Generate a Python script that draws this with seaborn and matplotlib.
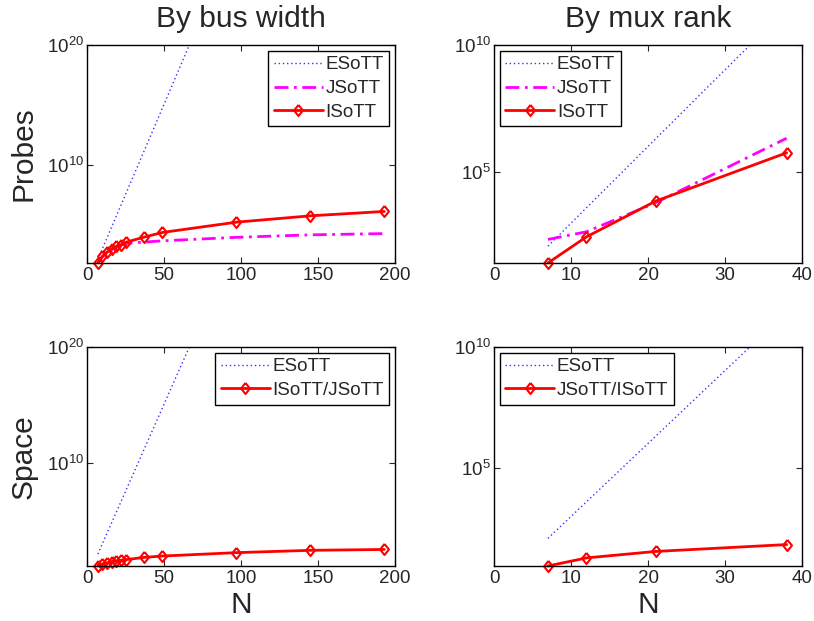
import matplotlib
matplotlib.use('Agg')
import matplotlib.pyplot as plt
import seaborn as sns

sns.set_style('white')
plt.rcParams['font.family'] = ['Liberation Sans', 'DejaVu Sans']

# data
n_bus = [7, 10, 13, 16, 19, 22, 25, 37, 49, 97, 145, 193]
bus_probes_esott = [128, 1024, 8192, 65536, 524288, 4.19e6, 3.36e7, 1.37e11,
                    5.6e14, 1.6e29, 4.5e43, 1.3e58]
bus_probes_jsott = [65, 220, 480, 850, 1350, 1900, 2800, 3600, 4600, 9000,
                    14500, 18500]
bus_probes_isott = [65, 230, 525, 940, 1550, 2150, 3400, 9300, 23000, 166000,
                    560000, 1.3e6]
bus_space_esott = [128, 1024, 8192, 65536, 524288, 4.19e6, 3.36e7, 1.37e11,
                   5.6e14, 1.6e29, 4.5e43, 1.3e58]
bus_space_isott = [12, 17, 22, 27, 32, 37, 42, 66, 87, 170, 270, 320]

n_rank = [7, 12, 21, 38]
rank_probes_esott = [128, 4096, 2.1e6, 2.7e11]
rank_probes_jsott = [235, 470, 6500, 2.2e6]
rank_probes_isott = [28, 297, 7500, 5.9e5]
rank_space_esott = [128, 4096, 2.1e6, 2.7e11]
rank_space_isott = [9.3, 20, 37, 71]

DIAMOND = [(0, 1), (0.8, 0), (0, -1), (-0.8, 0), (0, 1)]


def draw_esott(ax, x, y):
    sns.lineplot(x=x, y=y, ax=ax, color='#3333ff', lw=1.0,
                 linestyle=(0, (1, 2)), label='ESoTT')


def draw_jsott(ax, x, y):
    sns.lineplot(x=x, y=y, ax=ax, color='#ff00ff', lw=2.0,
                 linestyle=(0, (5, 2, 1, 2)), label='JSoTT', clip_on=False)


def draw_isott(ax, x, y, label):
    sns.lineplot(x=x, y=y, ax=ax, color='red', lw=2.0, marker=DIAMOND,
                 markersize=8, markerfacecolor='none', markeredgecolor='red',
                 markeredgewidth=1.5, label=label, clip_on=False)


def style_axes(ax, xticks, yticks, ylim, legend_loc):
    ax.set_yscale('log')
    ax.set_xlim(xticks[0], xticks[-1])
    ax.set_ylim(*ylim)
    ax.set_xticks(xticks)
    ax.set_yticks(yticks)
    ax.minorticks_off()
    ax.tick_params(direction='in', top=True, right=True, bottom=True, left=True,
                   length=4, width=0.8, labelsize=13.5, pad=3)
    ax.tick_params(axis='y', pad=2)
    for s in ax.spines.values():
        s.set_color('black')
        s.set_linewidth(1.0)
    ax.legend(loc=legend_loc, fontsize=13.5, frameon=True, fancybox=False,
              edgecolor='black', framealpha=1, handlelength=2.6,
              handletextpad=0.15, borderpad=0.3, labelspacing=0.35,
              borderaxespad=0.3)
    ax.get_legend().get_frame().set_linewidth(1.0)


fig = plt.figure(figsize=(8.14, 6.21), dpi=100)
ax1 = fig.add_axes([0.1069, 0.5765, 0.3784, 0.351])
ax2 = fig.add_axes([0.6069, 0.5765, 0.3784, 0.351])
ax3 = fig.add_axes([0.1069, 0.0886, 0.3784, 0.3527])
ax4 = fig.add_axes([0.6069, 0.0886, 0.3784, 0.3527])

draw_esott(ax1, n_bus, bus_probes_esott)
draw_jsott(ax1, n_bus, bus_probes_jsott)
draw_isott(ax1, n_bus, bus_probes_isott, 'ISoTT')
style_axes(ax1, [0, 50, 100, 150, 200], [1e10, 1e20],
           (min(bus_probes_isott), 1e20), 'upper right')

draw_esott(ax2, n_rank, rank_probes_esott)
draw_jsott(ax2, n_rank, rank_probes_jsott)
draw_isott(ax2, n_rank, rank_probes_isott, 'ISoTT')
style_axes(ax2, [0, 10, 20, 30, 40], [1e5, 1e10],
           (min(rank_probes_isott), 1e10), 'upper left')

draw_esott(ax3, n_bus, bus_space_esott)
draw_isott(ax3, n_bus, bus_space_isott, 'ISoTT/JSoTT')
style_axes(ax3, [0, 50, 100, 150, 200], [1e10, 1e20],
           (min(bus_space_isott), 1e20), 'upper right')

draw_esott(ax4, n_rank, rank_space_esott)
draw_isott(ax4, n_rank, rank_space_isott, 'JSoTT/ISoTT')
style_axes(ax4, [0, 10, 20, 30, 40], [1e5, 1e10],
           (min(rank_space_isott), 1e10), 'upper left')

ax1.set_title('By bus width', fontsize=21.5, pad=13)
ax2.set_title('By mux rank', fontsize=21.5, pad=13)
ax1.set_ylabel('Probes', fontsize=21.5)
ax3.set_ylabel('Space', fontsize=21.5)
ax1.yaxis.set_label_coords(-0.16, 0.5)
ax3.yaxis.set_label_coords(-0.16, 0.5)
ax3.set_xlabel('N', fontsize=21.5, labelpad=3)
ax4.set_xlabel('N', fontsize=21.5, labelpad=3)

fig.savefig('out.png', dpi=100)
